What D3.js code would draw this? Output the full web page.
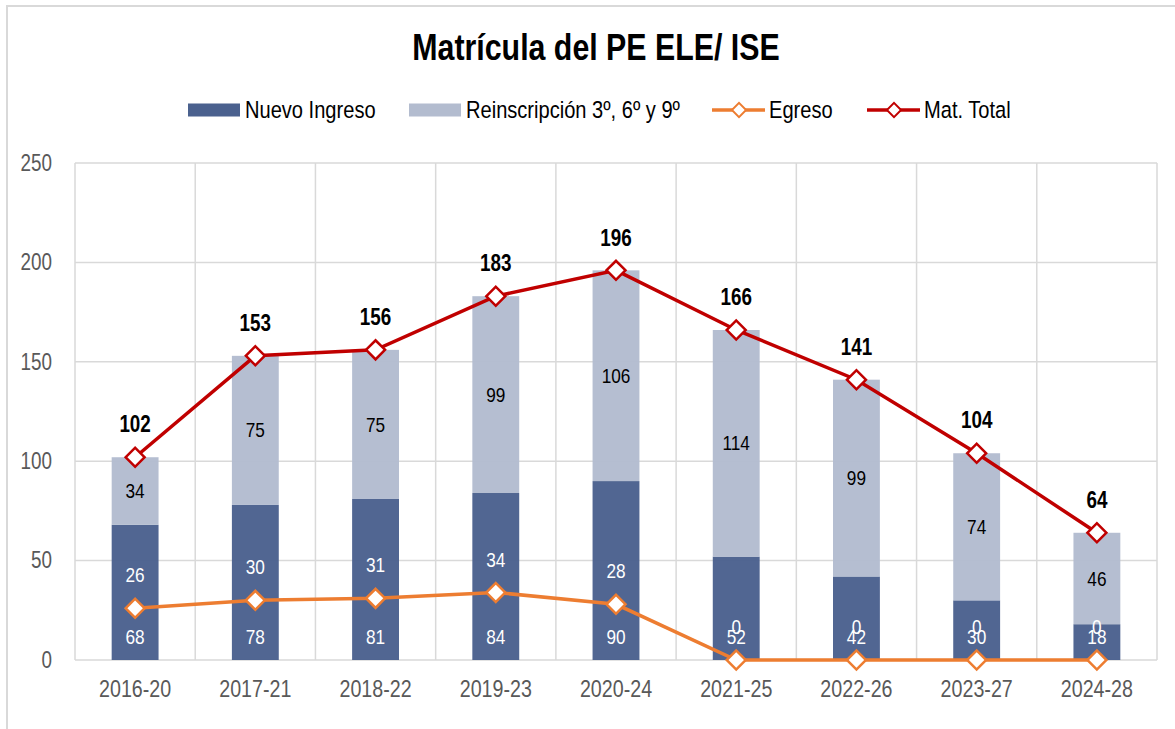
<!DOCTYPE html>
<html>
<head>
<meta charset="utf-8">
<script src="https://cdn.jsdelivr.net/npm/d3@7"></script>
<style>
  body { margin: 0; background: #ffffff; }
  text { font-family: "Liberation Sans", Arial, sans-serif; }
</style>
</head>
<body>
<div id="chart"></div>
<script>
const categories = ['2016-20', '2017-21', '2018-22', '2019-23', '2020-24', '2021-25', '2022-26', '2023-27', '2024-28'];
const nuevoIngreso = [68, 78, 81, 84, 90, 52, 42, 30, 18];
const reinscripcion = [34, 75, 75, 99, 106, 114, 99, 74, 46];
const egreso = [26, 30, 31, 34, 28, 0, 0, 0, 0];
const matTotal = [102, 153, 156, 183, 196, 166, 141, 104, 64];
const yTicks = [0, 50, 100, 150, 200, 250];

const W = 1175, H = 729;
const margin = {top: 163, right: 18, bottom: 69, left: 75},
      width = W - margin.left - margin.right,
      height = H - margin.top - margin.bottom;

const darkBlue = '#4b618e', lightBlue = '#b3bccf',
      orange = '#ed7d31', red = '#c00000', grid = '#d9d9d9', axisText = '#595959';

// the original uses a condensed face; squeeze the installed sans horizontally
const SX = 0.82;
const squeeze = (x, y) => 'translate(' + x + ',' + y + ') scale(' + SX + ',1)';

const svg = d3.select('#chart').append('svg')
    .attr('width', W)
    .attr('height', H);

// chart border
svg.append('rect')
    .attr('x', 7).attr('y', 6)
    .attr('width', W + 10).attr('height', H + 10)
    .attr('fill', 'none')
    .attr('stroke', grid)
    .attr('stroke-width', 2);

svg.append('text')
    .attr('transform', squeeze(596, 60))
    .attr('text-anchor', 'middle')
    .style('font-size', '37px')
    .style('font-weight', 'bold')
    .style('fill', '#000')
    .text('Matrícula del PE ELE/ ISE');

const wrapper = svg.append('g')
    .attr('transform', 'translate(' + margin.left + ',' + margin.top + ')');

const xScale = d3.scaleBand()
    .domain(categories)
    .range([0, width])
    .paddingInner(0.61)
    .paddingOuter(0.305);

const yScale = d3.scaleLinear()
    .domain([0, 250])
    .range([height, 0]);

// horizontal gridlines
wrapper.append('g')
    .selectAll('line')
    .data(yTicks)
  .enter().append('line')
    .attr('x1', 0).attr('x2', width)
    .attr('y1', d => yScale(d)).attr('y2', d => yScale(d))
    .attr('stroke', grid)
    .attr('stroke-width', 1.5);

// vertical gridlines at category boundaries
const step = xScale.step();
const bounds = d3.range(categories.length + 1).map(i => xScale(categories[0]) - xScale.paddingOuter() * step + i * step);
wrapper.append('g')
    .selectAll('line')
    .data(bounds)
  .enter().append('line')
    .attr('x1', d => d).attr('x2', d => d)
    .attr('y1', 0).attr('y2', height)
    .attr('stroke', grid)
    .attr('stroke-width', 1.5);

// y axis labels
const yAxis = wrapper.append('g')
    .call(d3.axisLeft(yScale).tickValues(yTicks).tickSize(0).tickPadding(23));
yAxis.select('.domain').remove();
yAxis.selectAll('text')
    .attr('x', -23 / SX)
    .attr('transform', 'scale(' + SX + ',1)')
    .style('font-size', '23px')
    .style('fill', axisText);

// x axis labels
const xAxis = wrapper.append('g')
    .attr('transform', 'translate(0,' + height + ')')
    .call(d3.axisBottom(xScale).tickSize(0).tickPadding(20));
xAxis.select('.domain').remove();
xAxis.selectAll('text')
    .attr('transform', 'scale(' + SX + ',1)')
    .style('font-size', '24px')
    .style('fill', axisText);

const rows = categories.map((c, i) => ({
  cat: c, ni: nuevoIngreso[i], re: reinscripcion[i], eg: egreso[i], tot: matTotal[i]
}));

// stacked bars
wrapper.append('g').selectAll('rect')
    .data(rows)
  .enter().append('rect')
    .attr('x', d => xScale(d.cat))
    .attr('width', xScale.bandwidth())
    .attr('y', d => yScale(d.ni))
    .attr('height', d => yScale(0) - yScale(d.ni))
    .attr('fill', darkBlue)
    .attr('fill-opacity', 0.97);

wrapper.append('g').selectAll('rect')
    .data(rows)
  .enter().append('rect')
    .attr('x', d => xScale(d.cat))
    .attr('width', xScale.bandwidth())
    .attr('y', d => yScale(d.ni + d.re))
    .attr('height', d => yScale(d.ni) - yScale(d.ni + d.re))
    .attr('fill', lightBlue)
    .attr('fill-opacity', 0.97);

const cx = d => xScale(d.cat) + xScale.bandwidth() / 2;

// bar labels
wrapper.append('g').selectAll('text')
    .data(rows)
  .enter().append('text')
    .attr('transform', d => squeeze(cx(d), yScale(0) - 23))
    .attr('text-anchor', 'middle')
    .attr('dominant-baseline', 'central')
    .style('font-size', '21px')
    .style('fill', '#fff')
    .text(d => d.ni);

wrapper.append('g').selectAll('text')
    .data(rows)
  .enter().append('text')
    .attr('transform', d => squeeze(cx(d), yScale(d.ni + d.re / 2)))
    .attr('text-anchor', 'middle')
    .attr('dominant-baseline', 'central')
    .style('font-size', '21px')
    .style('fill', '#000')
    .text(d => d.re);

// lines
const line = key => d3.line()
    .x(cx)
    .y(d => yScale(d[key]));

wrapper.append('path')
    .datum(rows)
    .attr('fill', 'none')
    .attr('stroke', orange)
    .attr('stroke-width', 3.5)
    .attr('d', line('eg'));

wrapper.append('path')
    .datum(rows)
    .attr('fill', 'none')
    .attr('stroke', red)
    .attr('stroke-width', 3.5)
    .attr('d', line('tot'));

const diamond = d3.symbol().type(d3.symbolSquare).size(180);

[['eg', orange], ['tot', red]].forEach(([key, color]) => {
  wrapper.append('g').selectAll('path')
      .data(rows)
    .enter().append('path')
      .attr('d', diamond)
      .attr('transform', d => 'translate(' + cx(d) + ',' + yScale(d[key]) + ') rotate(45)')
      .attr('fill', '#fff')
      .attr('stroke', color)
      .attr('stroke-width', 2.5);
});

// line labels
wrapper.append('g').selectAll('text')
    .data(rows)
  .enter().append('text')
    .attr('transform', d => squeeze(cx(d), yScale(d.eg) - 33))
    .attr('text-anchor', 'middle')
    .attr('dominant-baseline', 'central')
    .style('font-size', '21px')
    .style('fill', '#fff')
    .text(d => d.eg);

wrapper.append('g').selectAll('text')
    .data(rows)
  .enter().append('text')
    .attr('transform', d => squeeze(cx(d), yScale(d.tot) - 33))
    .attr('text-anchor', 'middle')
    .attr('dominant-baseline', 'central')
    .style('font-size', '23px')
    .style('font-weight', 'bold')
    .style('fill', '#000')
    .text(d => d.tot);

// legend
const legend = svg.append('g');
const legendY = 110;
const items = [
  {label: 'Nuevo Ingreso', type: 'bar', color: darkBlue, x: 188},
  {label: 'Reinscripción 3º, 6º y 9º', type: 'bar', color: lightBlue, x: 409},
  {label: 'Egreso', type: 'line', color: orange, x: 712},
  {label: 'Mat. Total', type: 'line', color: red, x: 867}
];
items.forEach(it => {
  if (it.type === 'bar') {
    legend.append('rect')
        .attr('x', it.x).attr('y', legendY - 6.5)
        .attr('width', 52).attr('height', 13)
        .attr('fill', it.color);
  } else {
    legend.append('line')
        .attr('x1', it.x).attr('x2', it.x + 53)
        .attr('y1', legendY).attr('y2', legendY)
        .attr('stroke', it.color)
        .attr('stroke-width', 3.5);
    legend.append('path')
        .attr('d', d3.symbol().type(d3.symbolSquare).size(100))
        .attr('transform', 'translate(' + (it.x + 27) + ',' + legendY + ') rotate(45)')
        .attr('fill', '#fff')
        .attr('stroke', it.color)
        .attr('stroke-width', 2);
  }
  legend.append('text')
      .attr('transform', squeeze(it.x + 57, legendY))
      .attr('dominant-baseline', 'central')
      .style('font-size', '24.5px')
      .style('fill', '#000')
      .text(it.label);
});
</script>
</body>
</html>
